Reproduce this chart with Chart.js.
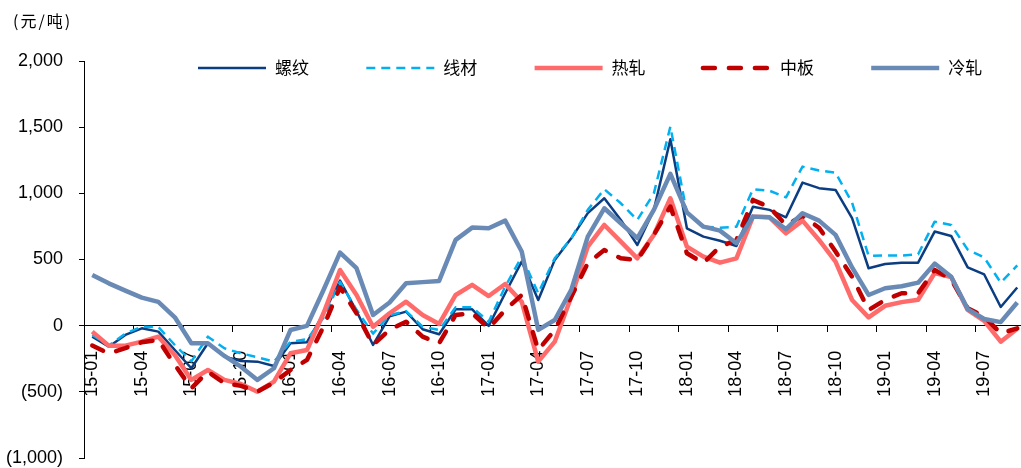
<!DOCTYPE html>
<html lang="zh-CN">
<head>
<meta charset="utf-8">
<title>钢材品种毛利</title>
<script src="https://cdn.jsdelivr.net/npm/chart.js@4.4.1/dist/chart.umd.min.js"></script>
<style>
  html, body { margin: 0; padding: 0; background: #fff; overflow: hidden; }
  #wrap { width: 1030px; height: 468px; }
</style>
</head>
<body>
<div id="wrap"><canvas id="c" width="1030" height="468"></canvas></div>
<script>
// Monthly categories, 2015-01 .. 2019-09
const months = [
  '15-01','15-02','15-03','15-04','15-05','15-06','15-07','15-08','15-09','15-10','15-11','15-12',
  '16-01','16-02','16-03','16-04','16-05','16-06','16-07','16-08','16-09','16-10','16-11','16-12',
  '17-01','17-02','17-03','17-04','17-05','17-06','17-07','17-08','17-09','17-10','17-11','17-12',
  '18-01','18-02','18-03','18-04','18-05','18-06','18-07','18-08','18-09','18-10','18-11','18-12',
  '19-01','19-02','19-03','19-04','19-05','19-06','19-07','19-08','19-09'
];

// Gross margin by product, 元/吨
const rebar = [
  -83, -159, -70, -20, -45, -184, -322, -133, -234, -267, -272, -305,
  -133, -125, 90, 340, 110, -146, 70, 106, -27, -65, 124, 124,
  -2, 245, 484, 194, 497, 660, 850, 963, 799, 610, 875, 1409,
  736, 673, 642, 602, 899, 875, 819, 1081, 1039, 1026, 812, 434,
  466, 476, 476, 711, 678, 441, 387, 141, 288
];
const wireRod = [
  -70, -150, -60, -8, -10, -146, -270, -83, -171, -209, -239, -272,
  -121, -103, 60, 330, 120, -60, 80, 110, -8, -33, 139, 139,
  30, 295, 522, 245, 510, 660, 875, 1031, 925, 799, 1000, 1504,
  850, 748, 740, 748, 1031, 1020, 970, 1202, 1172, 1156, 930, 527,
  530, 530, 540, 786, 761, 575, 515, 325, 455
];
const hotRolled = [
  -45, -151, -151, -121, -83, -221, -410, -335, -410, -441, -499, -423,
  -209, -184, 94, 421, 232, -8, 94, 181, 81, 13, 232, 308,
  224, 315, 181, -272, -121, 219, 597, 761, 635, 509, 686, 963,
  597, 522, 476, 509, 824, 819, 698, 794, 648, 484, 194, 63,
  150, 178, 196, 398, 368, 119, 37, -121, -24
];
const plate = [
  -150, -210, -170, -125, -108, -296, -473, -348, -435, -455, -499, -430,
  -335, -259, -8, 290, 94, -146, -30, 30, -83, -133, 81, 94,
  -20, 119, 232, -184, -33, 219, 472, 572, 509, 497, 686, 900,
  547, 472, 597, 648, 950, 895, 760, 830, 740, 560, 370, 119,
  194, 245, 245, 421, 350, 131, 68, -58, -20
];
const coldRolled = [
  383, 320, 265, 212, 180, 63, -133, -133, -229, -310, -410, -322,
  -33, -2, 270, 552, 434, 81, 175, 320, 329, 338, 648, 741,
  736, 794, 560, -32, 43, 270, 673, 887, 774, 661, 875, 1147,
  856, 748, 718, 623, 824, 819, 729, 850, 794, 686, 440, 232,
  283, 298, 325, 469, 370, 125, 50, 27, 175
];

const seriesNames = ['螺纹', '线材', '热轧', '中板', '冷轧'];
const unitLabel = '(元/吨)';

const tickFont = { family: '"Liberation Sans", Arial, sans-serif', size: 18 };
const cjkFont = '"Noto Sans CJK SC", "Noto Sans CJK JP", sans-serif';

const styles = [
  { color: '#0B3D82', width: 2.5, dash: [], cap: 'butt' },
  { color: '#00B0F0', width: 2.5, dash: [9, 6], cap: 'butt' },
  { color: '#FF6B6B', width: 4.5, dash: [], cap: 'butt' },
  { color: '#C00000', width: 4.5, dash: [12, 14], cap: 'round' },
  { color: '#6A8AB6', width: 4.5, dash: [], cap: 'butt' }
];

const values = [rebar, wireRod, hotRolled, plate, coldRolled];

const datasets = values.map((vals, i) => ({
  label: seriesNames[i],
  data: vals,
  borderColor: styles[i].color,
  backgroundColor: styles[i].color,
  borderWidth: styles[i].width,
  borderDash: styles[i].dash,
  borderCapStyle: styles[i].cap,
  borderJoinStyle: 'round',
  fill: false,
  tension: 0,
  pointRadius: 0,
  order: values.length - 1 - i
}));

function fmtThousands(v) {
  const s = Math.abs(v).toLocaleString('en-US');
  return v < 0 ? '(' + s + ')' : s;
}

// Unit caption and a row legend drawn inside the top of the plot
const captionAndLegend = {
  id: 'captionAndLegend',
  afterDraw(chart) {
    const ctx = chart.ctx;
    ctx.save();
    ctx.fillStyle = '#000';
    ctx.textBaseline = 'middle';
    ctx.textAlign = 'left';
    ctx.font = '16px ' + cjkFont;
    ctx.letterSpacing = '2px';
    ctx.fillText(unitLabel, 13, 21);
    ctx.letterSpacing = '0px';

    const startX = 198, step = 168.3, y = 68, sample = 68;
    chart.data.datasets.forEach((ds, i) => {
      const x0 = startX + i * step;
      ctx.save();
      ctx.strokeStyle = ds.borderColor;
      ctx.lineWidth = ds.borderWidth;
      ctx.setLineDash(ds.borderDash || []);
      ctx.lineCap = ds.borderCapStyle || 'butt';
      ctx.beginPath();
      ctx.moveTo(x0, y);
      ctx.lineTo(x0 + sample, y);
      ctx.stroke();
      ctx.restore();
      ctx.font = '17px ' + cjkFont;
      ctx.fillStyle = '#000';
      ctx.fillText(ds.label, x0 + sample + 9, y);
    });
    ctx.restore();
  }
};

new Chart(document.getElementById('c'), {
  type: 'line',
  data: { labels: months, datasets },
  plugins: [captionAndLegend],
  options: {
    responsive: false,
    animation: false,
    devicePixelRatio: 1,
    layout: { padding: { top: 61, bottom: 10, left: 0, right: 4.5 } },
    plugins: {
      legend: { display: false },
      tooltip: { enabled: false },
      title: { display: false }
    },
    scales: {
      x: {
        type: 'category',
        offset: true,
        position: { y: 0 },
        border: { display: true, color: '#000', width: 1 },
        grid: {
          offset: true,
          drawOnChartArea: false,
          drawTicks: true,
          tickLength: 6,
          lineWidth: 1,
          color: (c) => (c.index % 3 === 0 ? '#000' : 'rgba(0,0,0,0)')
        },
        ticks: {
          autoSkip: false,
          minRotation: 90,
          maxRotation: 90,
          padding: 19,
          color: '#000',
          font: tickFont,
          callback: function (v, i) { return i % 3 === 0 ? this.getLabelForValue(v) : ''; }
        },
        // the axis sits on the zero line, so it takes no room of its own
        afterFit: (scale) => {
          scale.height = 0;
          scale.paddingLeft = 0;
          scale.paddingRight = 0;
          scale.paddingTop = 0;
          scale.paddingBottom = 0;
        }
      },
      y: {
        min: -1000,
        max: 2000,
        border: { display: true, color: '#000', width: 1 },
        grid: { drawOnChartArea: false, drawTicks: true, tickLength: 5, color: '#000' },
        ticks: {
          stepSize: 500,
          padding: 16,
          color: '#000',
          font: tickFont,
          callback: (v) => fmtThousands(v)
        },
        afterFit: (scale) => {
          scale.width = 84;
          scale.paddingTop = 0;
          scale.paddingBottom = 0;
        }
      }
    }
  }
});
</script>
</body>
</html>
